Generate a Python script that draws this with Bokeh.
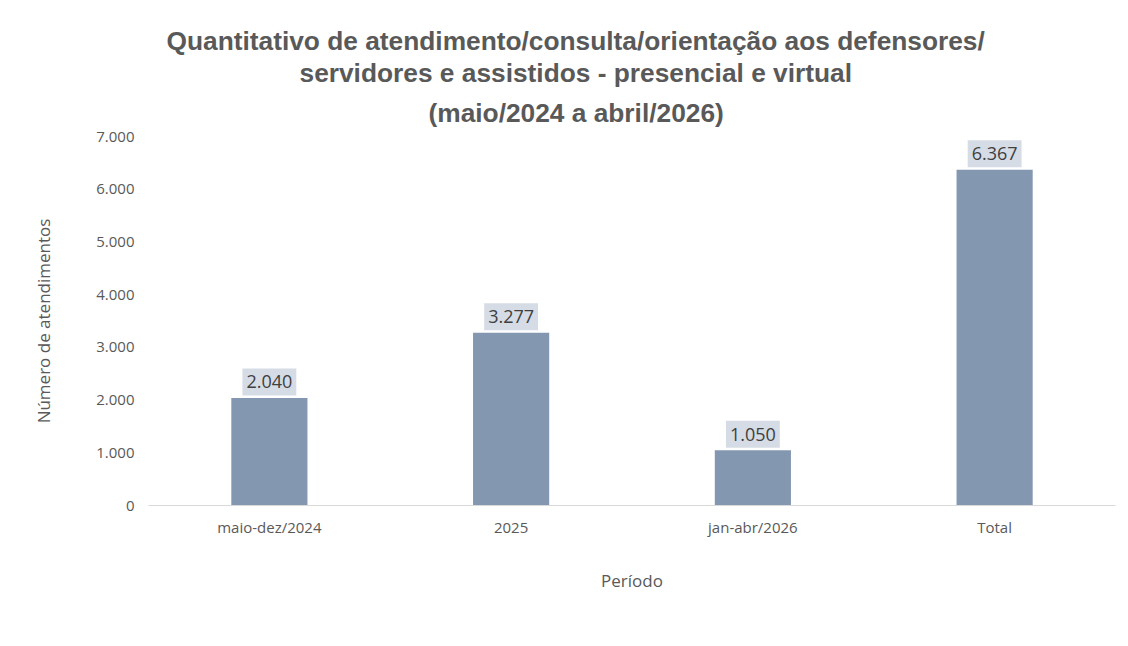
from bokeh.plotting import figure
from bokeh.models import ColumnDataSource, FixedTicker, CustomJSTickFormatter, Title, Range1d
from bokeh.core.properties import value
from bokeh.embed import file_html
from bokeh.resources import INLINE

categories = ["maio-dez/2024", "2025", "jan-abr/2026", "Total"]
values = [2040, 3277, 1050, 6367]
y_ticks = [0, 1000, 2000, 3000, 4000, 5000, 6000, 7000]
title_lines = [
    "Quantitativo de atendimento/consulta/orientação aos defensores/",
    "servidores e assistidos - presencial e virtual",
    "(maio/2024 a abril/2026)",
]
x_title = "Período"
y_title = "Número de atendimentos"

labels = [f"{v:,}".replace(",", ".") for v in values]
src = ColumnDataSource(dict(cat=categories, val=values, lab=labels))

GREY = "#595959"
W, H = 1120, 638
Y_MAX = 7000
FRAME_TOP, FRAME_BOTTOM = 136, 505

p = figure(x_range=categories, y_range=Range1d(0, Y_MAX), width=W, height=H,
           output_backend="svg", toolbar_location=None,
           min_border_left=148, min_border_right=5, min_border_top=FRAME_TOP,
           min_border_bottom=H - FRAME_BOTTOM)
p.outline_line_color = None
p.background_fill_color = "white"
p.border_fill_color = "white"
p.x_range.range_padding = 0

p.vbar(x="cat", top="val", width=0.315, source=src, fill_color="#8497B0", line_color=None)

p.text(x="cat", y="val", text="lab", source=src, text_align="center", text_baseline="middle",
       y_offset=-16, text_font=value("Open Sans"), text_font_size="18px", text_color="#404040",
       background_fill_color="#D6DCE5", padding=dict(left=4, right=4, top=7, bottom=7))

p.xgrid.grid_line_color = None
p.ygrid.grid_line_color = None

xa = p.xaxis[0]
xa.axis_line_color = "#D9D9D9"
xa.major_tick_line_color = None
xa.minor_tick_line_color = None
xa.major_label_text_font = "Open Sans"
xa.major_label_text_font_size = "15px"
xa.major_label_text_color = GREY
xa.major_label_standoff = 5
xa.axis_label = x_title
xa.axis_label_text_font = "Open Sans"
xa.axis_label_text_font_style = "normal"
xa.axis_label_text_font_size = "17px"
xa.axis_label_text_color = GREY
xa.axis_label_standoff = 29

ya = p.yaxis[0]
ya.ticker = FixedTicker(ticks=y_ticks)
ya.formatter = CustomJSTickFormatter(code="return tick.toString().replace(/\\B(?=(\\d{3})+(?!\\d))/g, '.');")
ya.axis_line_color = None
ya.major_tick_line_color = None
ya.minor_tick_line_color = None
ya.major_label_text_font = "Open Sans"
ya.major_label_text_font_size = "15px"
ya.major_label_text_color = GREY
ya.major_label_standoff = 8
ya.axis_label = y_title
ya.axis_label_text_font = "Open Sans"
ya.axis_label_text_font_style = "normal"
ya.axis_label_text_font_size = "17px"
ya.axis_label_text_color = GREY
ya.axis_label_standoff = 38

# title: three stacked lines (nearest the frame added first), left-aligned with
# per-line offsets so that they are centred around the same x as in the original
title_offsets = [18, 151, 280]
title_standoffs = [0, 0, 17]
for t, off, so in reversed(list(zip(title_lines, title_offsets, title_standoffs))):
    p.add_layout(Title(text=t, align="left", offset=off, standoff=so,
                       text_font="Liberation Sans", text_font_style="bold",
                       text_line_height=0.9,
                       text_font_size="26.3px", text_color=GREY), "above")

open("out.html", "w").write(file_html(p, INLINE))
